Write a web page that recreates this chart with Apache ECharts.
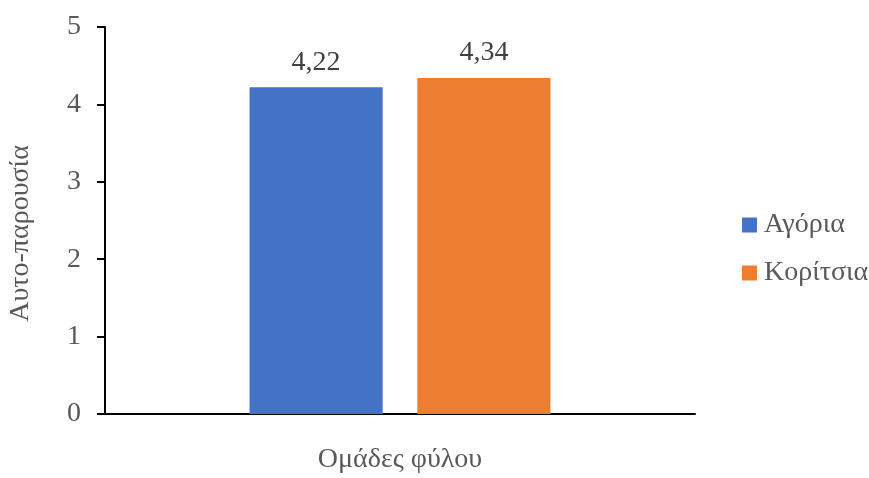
<!DOCTYPE html>
<html><head><meta charset="utf-8">
<script src="https://cdn.jsdelivr.net/npm/echarts@6/dist/echarts.min.js"></script>
<style>html,body{margin:0;padding:0;background:#fff}#c{width:869px;height:478px}</style>
</head><body><div id="c"></div>
<script>
const categories = ['Ομάδες φύλου'];
const seriesNames = ['Αγόρια', 'Κορίτσια'];
const boysValues = [4.22];
const girlsValues = [4.34];
const colors = ['#4472C4', '#ED7D31'];
const font = '"Liberation Serif", "Times New Roman", serif';
const txt = '#595959';
const chart = echarts.init(document.getElementById('c'));
const fs = 28;
const mk = (name, data, color) => ({
  name, type: 'bar', data, itemStyle: {color},
  barCategoryGap: '49%', barGap: '26%',
  label: {show: true, position: 'top', distance: 11, color: '#404040', fontFamily: font, fontSize: fs,
    formatter: p => p.value.toFixed(2).replace('.', ',')}
});
chart.setOption({
  animation: false,
  textStyle: {fontFamily: font},
  grid: {left: 105, right: 174, top: 27, bottom: 64, containLabel: false, outerBoundsMode: 'none'},
  legend: {
    orient: 'vertical', left: 737, top: 206, itemWidth: 15, itemHeight: 15, itemGap: 20,
    icon: 'rect', textStyle: {fontFamily: font, fontSize: fs, color: txt, padding: [0, 0, 0, 2]},
    data: seriesNames
  },
  xAxis: {
    type: 'category', data: categories,
    name: categories[0], nameLocation: 'middle', nameGap: 32,
    nameTextStyle: {fontFamily: font, fontSize: fs, color: txt},
    axisLine: {lineStyle: {color: '#000', width: 2}},
    axisTick: {show: false}, axisLabel: {show: false}
  },
  yAxis: {
    type: 'value', min: 0, max: 5, interval: 1,
    name: 'Αυτο-παρουσία', nameLocation: 'middle', nameGap: 70, nameRotate: 90,
    nameTextStyle: {fontFamily: font, fontSize: fs, color: txt, padding: [0, 26, 0, 0]},
    axisLine: {show: true, lineStyle: {color: '#000', width: 2}},
    axisTick: {show: true, length: 8, lineStyle: {color: '#000', width: 2}},
    axisLabel: {fontFamily: font, fontSize: fs, color: txt, margin: 24},
    splitLine: {show: false}
  },
  series: [mk(seriesNames[0], boysValues, colors[0]), mk(seriesNames[1], girlsValues, colors[1])]
});
</script></body></html>
